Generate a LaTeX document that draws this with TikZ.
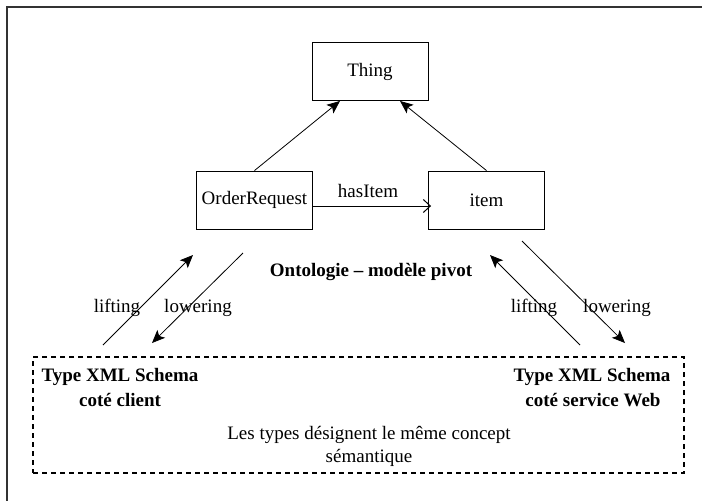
\documentclass[tikz,border=0pt]{standalone}
\usepackage{fontspec}
\setmainfont{Liberation Serif}
\usetikzlibrary{arrows.meta}
\begin{document}
\begin{tikzpicture}[x=1pt,y=-1pt,
  every node/.style={font=\fontsize{19}{22}\selectfont, inner sep=0pt},
  cls/.style={draw, line width=0.9pt, minimum width=116pt, minimum height=58pt},
  lbl/.style={},
  blbl/.style={font=\fontsize{19}{22}\selectfont\bfseries},
  tri/.style={line width=0.8pt, -{Stealth[length=13pt,width=11pt,inset=3pt]}},
  opn/.style={line width=1pt, -{Straight Barb[length=7pt,width=13pt]}},
  grp/.style={draw, line width=1.2pt, dash pattern=on 5pt off 4pt, minimum width=651pt, minimum height=116pt}
]
\useasboundingbox (0,0) rectangle (702,501);
% outer frame
\draw[line width=2pt, color=black!80] (7,510) -- (7,7) -- (710,7);

\node[cls] (thing) at (370,71.5) {Thing};
\node[cls] (or) at (254.5,200) {OrderRequest};
\node[cls] (item) at (486.5,200) {item};

\draw[tri] (or.north) -- ([xshift=-30pt]thing.south);
\draw[tri] (item.north) -- ([xshift=30pt]thing.south);
\draw[opn] ([yshift=-6pt]or.east) -- ([yshift=-6pt,xshift=3pt]item.west);
\node[lbl] (has) at (368,191) {hasItem};

\node[blbl] (onto) at (371,272) {Ontologie -- modèle pivot};

\node[grp] (types) at (358.5,415) {};

\coordinate (l1s) at (103,345); \coordinate (l1e) at (193,255);
\coordinate (w1s) at (243,253); \coordinate (w1e) at (152,343);
\coordinate (l2s) at (580,345); \coordinate (l2e) at (490,255);
\coordinate (w2s) at (522,241); \coordinate (w2e) at (625,343);
\draw[tri] (l1s) -- (l1e);
\draw[tri] (w1s) -- (w1e);
\draw[tri] (l2s) -- (l2e);
\draw[tri] (w2s) -- (w2e);

\node[lbl] (lift1) at (117,308) {lifting};
\node[lbl] (low1) at (198,308) {lowering};
\node[lbl] (lift2) at (534,308) {lifting};
\node[lbl] (low2) at (617,308) {lowering};

\node[blbl] (c1) at (120,377) {Type XML Schema};
\node[blbl] (c2) at (120,400) {coté client};
\node[blbl] (s1) at (592,377) {Type XML Schema};
\node[blbl] (s2) at (593,400) {coté service Web};

\node[lbl] (m1) at (369,435) {Les types désignent le même concept};
\node[lbl] (m2) at (369,458) {sémantique};
\end{tikzpicture}
\end{document}
